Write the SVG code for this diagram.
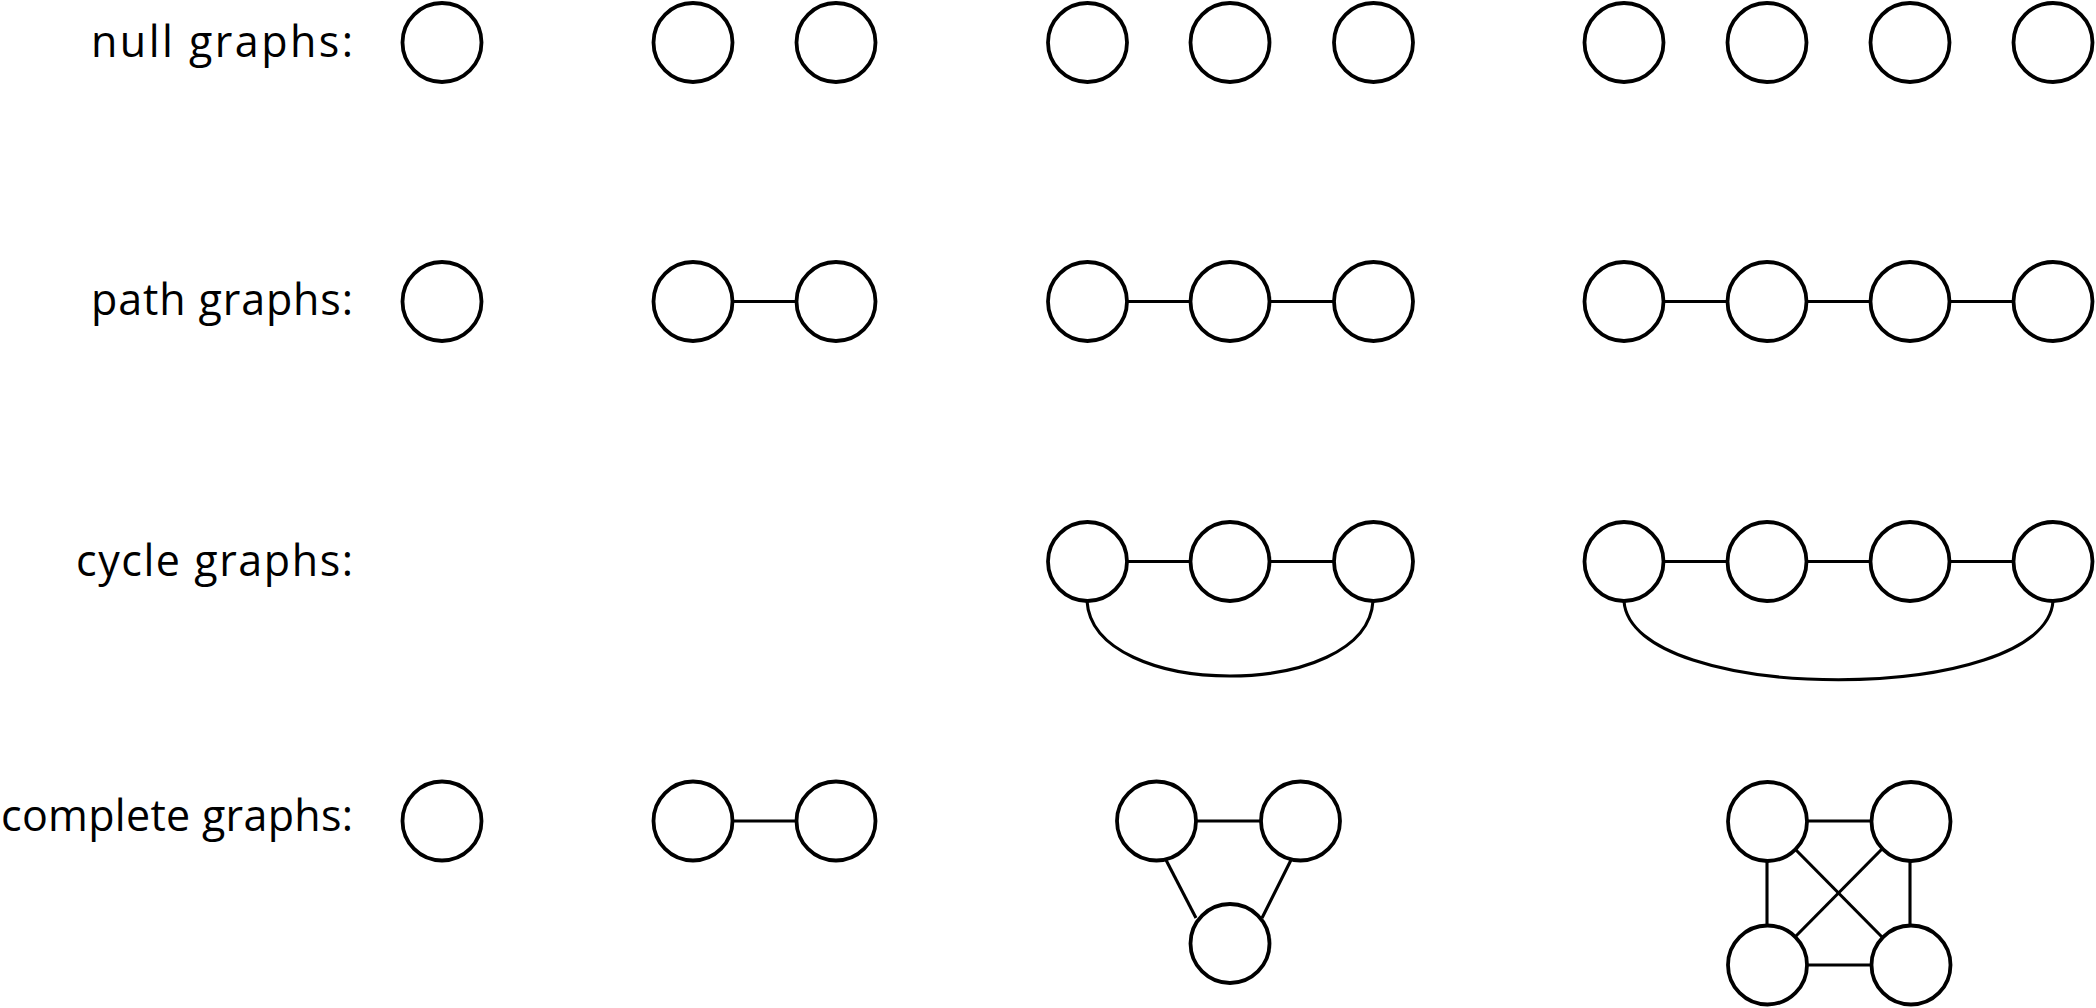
<svg xmlns="http://www.w3.org/2000/svg" width="2096" height="1008" viewBox="0 0 2096 1008">
<style>
.n{fill:#fff;stroke:#000;stroke-width:3.8}
.e{fill:none;stroke:#000;stroke-width:3.1}
.lbl{font-family:"Open Sans","DejaVu Sans",sans-serif;font-size:43px;fill:#000;text-anchor:end}
</style>
<rect width="2096" height="1008" fill="#fff"/>
<g id="labels">
<text class="lbl" x="353" y="57" textLength="262">null graphs:</text>
<text class="lbl" x="353" y="315" textLength="262">path graphs:</text>
<text class="lbl" x="353" y="576" textLength="277">cycle graphs:</text>
<text class="lbl" x="353" y="831" textLength="352">complete graphs:</text>
</g>
<g id="connectors">
<line class="e" x1="732" y1="301.5" x2="797" y2="301.5"/>
<line class="e" x1="1126" y1="301.5" x2="1191" y2="301.5"/>
<line class="e" x1="1269" y1="301.5" x2="1334" y2="301.5"/>
<line class="e" x1="1663" y1="301.5" x2="1728" y2="301.5"/>
<line class="e" x1="1806" y1="301.5" x2="1871" y2="301.5"/>
<line class="e" x1="1949" y1="301.5" x2="2014" y2="301.5"/>
<line class="e" x1="1126" y1="561.5" x2="1191" y2="561.5"/>
<line class="e" x1="1269" y1="561.5" x2="1334" y2="561.5"/>
<path class="e" d="M1087,601 C1093,701 1367,701 1373,601"/>
<line class="e" x1="1663" y1="561.5" x2="1728" y2="561.5"/>
<line class="e" x1="1806" y1="561.5" x2="1871" y2="561.5"/>
<line class="e" x1="1949" y1="561.5" x2="2014" y2="561.5"/>
<path class="e" d="M1624,601 C1631,706 2046,706 2053,601"/>
<line class="e" x1="732" y1="821" x2="797" y2="821"/>
<line class="e" x1="1196" y1="821" x2="1261" y2="821"/>
<line class="e" x1="1166" y1="860" x2="1196" y2="918"/>
<line class="e" x1="1291" y1="860" x2="1262" y2="918"/>
<line class="e" x1="1806" y1="821" x2="1871" y2="821"/>
<line class="e" x1="1806" y1="965" x2="1871" y2="965"/>
<line class="e" x1="1767" y1="860" x2="1767" y2="926"/>
<line class="e" x1="1910" y1="860" x2="1910" y2="926"/>
<line class="e" x1="1795" y1="849" x2="1882" y2="937"/>
<line class="e" x1="1882" y1="849" x2="1795" y2="937"/>
</g>
<g id="null1"><circle class="n" cx="442" cy="42.5" r="39.5"/></g>
<g id="null2a"><circle class="n" cx="693" cy="42.5" r="39.5"/></g>
<g id="null2b"><circle class="n" cx="836" cy="42.5" r="39.5"/></g>
<g id="null3a"><circle class="n" cx="1087.5" cy="42.5" r="39.5"/></g>
<g id="null3b"><circle class="n" cx="1230" cy="42.5" r="39.5"/></g>
<g id="null3c"><circle class="n" cx="1373.5" cy="42.5" r="39.5"/></g>
<g id="null4a"><circle class="n" cx="1624" cy="42.5" r="39.5"/></g>
<g id="null4b"><circle class="n" cx="1767" cy="42.5" r="39.5"/></g>
<g id="null4c"><circle class="n" cx="1910" cy="42.5" r="39.5"/></g>
<g id="null4d"><circle class="n" cx="2053" cy="42.5" r="39.5"/></g>
<g id="path1"><circle class="n" cx="442" cy="301.5" r="39.5"/></g>
<g id="path2a"><circle class="n" cx="693" cy="301.5" r="39.5"/></g>
<g id="path2b"><circle class="n" cx="836" cy="301.5" r="39.5"/></g>
<g id="path3a"><circle class="n" cx="1087.5" cy="301.5" r="39.5"/></g>
<g id="path3b"><circle class="n" cx="1230" cy="301.5" r="39.5"/></g>
<g id="path3c"><circle class="n" cx="1373.5" cy="301.5" r="39.5"/></g>
<g id="path4a"><circle class="n" cx="1624" cy="301.5" r="39.5"/></g>
<g id="path4b"><circle class="n" cx="1767" cy="301.5" r="39.5"/></g>
<g id="path4c"><circle class="n" cx="1910" cy="301.5" r="39.5"/></g>
<g id="path4d"><circle class="n" cx="2053" cy="301.5" r="39.5"/></g>
<g id="cycle3a"><circle class="n" cx="1087.5" cy="561.5" r="39.5"/></g>
<g id="cycle3b"><circle class="n" cx="1230" cy="561.5" r="39.5"/></g>
<g id="cycle3c"><circle class="n" cx="1373.5" cy="561.5" r="39.5"/></g>
<g id="cycle4a"><circle class="n" cx="1624" cy="561.5" r="39.5"/></g>
<g id="cycle4b"><circle class="n" cx="1767" cy="561.5" r="39.5"/></g>
<g id="cycle4c"><circle class="n" cx="1910" cy="561.5" r="39.5"/></g>
<g id="cycle4d"><circle class="n" cx="2053" cy="561.5" r="39.5"/></g>
<g id="complete1"><circle class="n" cx="442" cy="821" r="39.5"/></g>
<g id="complete2a"><circle class="n" cx="693" cy="821" r="39.5"/></g>
<g id="complete2b"><circle class="n" cx="836" cy="821" r="39.5"/></g>
<g id="complete3a"><circle class="n" cx="1156.5" cy="821" r="39.5"/></g>
<g id="complete3b"><circle class="n" cx="1300.5" cy="821" r="39.5"/></g>
<g id="complete3c"><circle class="n" cx="1230" cy="943.5" r="39.5"/></g>
<g id="complete4a"><circle class="n" cx="1767.5" cy="821.5" r="39.5"/></g>
<g id="complete4b"><circle class="n" cx="1911" cy="821.5" r="39.5"/></g>
<g id="complete4c"><circle class="n" cx="1767.5" cy="965" r="39.5"/></g>
<g id="complete4d"><circle class="n" cx="1911" cy="965" r="39.5"/></g>
</svg>
